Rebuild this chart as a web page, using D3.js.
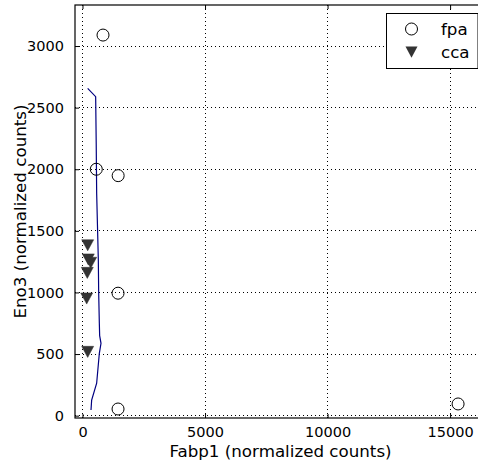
<!DOCTYPE html>
<html>
<head>
<meta charset="utf-8">
<script src="https://cdn.jsdelivr.net/npm/d3@7"></script>
<style>
  body { margin: 0; background: #fff; overflow: hidden; }
  text { font-family: "DejaVu Sans", sans-serif; fill: #000; }
</style>
</head>
<body>
<svg id="chart" width="478" height="464"></svg>
<script>
// fpa samples (open circles)
const fpaX = [837, 563, 1455, 1450, 1450, 15326]
const fpaY = [3089, 2000, 1948, 994, 54, 95]

// cca samples (filled triangles)
const ccaX = [212, 237, 335, 196, 171, 212]
const ccaY = [1384, 1269, 1242, 1160, 952, 519]

// fitted curve
const fitX = [347, 374, 578, 687, 755, 700, 687, 660, 646, 610, 578, 560, 537, 211]
const fitY = [46, 127, 263, 506, 587, 650, 750, 1000, 1263, 1550, 1805, 2200, 2589, 2657]

const xTicks = [0, 5000, 10000, 15000]
const yTicks = [0, 500, 1000, 1500, 2000, 2500, 3000]

const svg = d3.select("#chart")
// axes box runs a little past the right edge of the picture
const pLeft = 75, pRight = 486, pTop = 5, pBottom = 418

const x = d3.scaleLinear().domain([-306, 16465]).range([pLeft, pRight])
const y = d3.scaleLinear().domain([-19, 3333]).range([pBottom, pTop])

// grid
const grid = svg.append("g")
grid.selectAll("line.gx").data(xTicks).enter().append("line")
    .attr("x1", d => x(d)).attr("x2", d => x(d))
    .attr("y1", pTop).attr("y2", pBottom)
grid.selectAll("line.gy").data(yTicks).enter().append("line")
    .attr("x1", pLeft).attr("x2", pRight)
    .attr("y1", d => y(d)).attr("y2", d => y(d))
grid.selectAll("line")
    .attr("stroke", "#000").attr("stroke-width", 1)
    .attr("stroke-dasharray", "1,3")
    .attr("shape-rendering", "crispEdges")

// axes (ticks inward, on all four sides)
const tickLen = -4
const fmt = d3.format("d")
svg.append("g").attr("transform", `translate(0,${pBottom})`)
    .call(d3.axisBottom(x).tickValues(xTicks).tickFormat(fmt).tickSize(tickLen).tickPadding(9))
svg.append("g").attr("transform", `translate(0,${pTop})`)
    .call(d3.axisTop(x).tickValues(xTicks).tickSize(tickLen).tickFormat(""))
svg.append("g").attr("transform", `translate(${pLeft},0)`)
    .call(d3.axisLeft(y).tickValues(yTicks).tickFormat(fmt).tickSize(tickLen).tickPadding(11))
svg.append("g").attr("transform", `translate(${pRight},0)`)
    .call(d3.axisRight(y).tickValues(yTicks).tickSize(tickLen).tickFormat(""))

svg.selectAll(".domain").remove()
svg.selectAll(".tick line").attr("stroke", "#000")
svg.selectAll(".tick text")
    .attr("font-family", "DejaVu Sans").attr("font-size", 14.5)
    .style("font-size", "14.5px")
    .attr("fill", "#000")

svg.append("rect")
    .attr("x", pLeft).attr("y", pTop)
    .attr("width", pRight - pLeft).attr("height", pBottom - pTop)
    .attr("fill", "none").attr("stroke", "#000").attr("stroke-width", 1.2)

// fitted line
const line = d3.line().x(d => x(d[0])).y(d => y(d[1]))
svg.append("path")
    .datum(fitX.map((v, i) => [v, fitY[i]]))
    .attr("d", line)
    .attr("fill", "none").attr("stroke", "#000080").attr("stroke-width", 1.2)

// cca triangles
const tri = (cx, cy, s) => `M${cx - s},${cy - s * 0.9}L${cx + s},${cy - s * 0.9}L${cx},${cy + s * 0.95}Z`
svg.append("g").selectAll("path").data(ccaX).enter().append("path")
    .attr("d", (d, i) => tri(x(d), y(ccaY[i]), 6))
    .attr("fill", "#333").attr("stroke", "#333").attr("stroke-width", 0.5)

// fpa circles
svg.append("g").selectAll("circle").data(fpaX).enter().append("circle")
    .attr("cx", d => x(d)).attr("cy", (d, i) => y(fpaY[i]))
    .attr("r", 6).attr("fill", "none").attr("stroke", "#000").attr("stroke-width", 1)

// axis labels
svg.append("text").attr("x", (pLeft + pRight) / 2).attr("y", 457)
    .attr("text-anchor", "middle").style("font-size", "16.7px")
    .text("Fabp1 (normalized counts)")
svg.append("text")
    .attr("transform", `translate(26,${(pTop + pBottom) / 2}) rotate(-90)`)
    .attr("text-anchor", "middle").style("font-size", "16.7px")
    .text("Eno3 (normalized counts)")

// legend
const lg = svg.append("g")
lg.append("rect").attr("x", 386.5).attr("y", 13.5).attr("width", 91.5).attr("height", 55)
    .attr("fill", "#fff").attr("stroke", "#000").attr("stroke-width", 1)
lg.append("circle").attr("cx", 411.5).attr("cy", 29).attr("r", 6)
    .attr("fill", "none").attr("stroke", "#000")
lg.append("path").attr("d", tri(411.5, 52, 6)).attr("fill", "#333")
lg.append("text").attr("x", 441).attr("y", 35).style("font-size", "16.7px").text("fpa")
lg.append("text").attr("x", 441).attr("y", 58).style("font-size", "16.7px").text("cca")
</script>
</body>
</html>
